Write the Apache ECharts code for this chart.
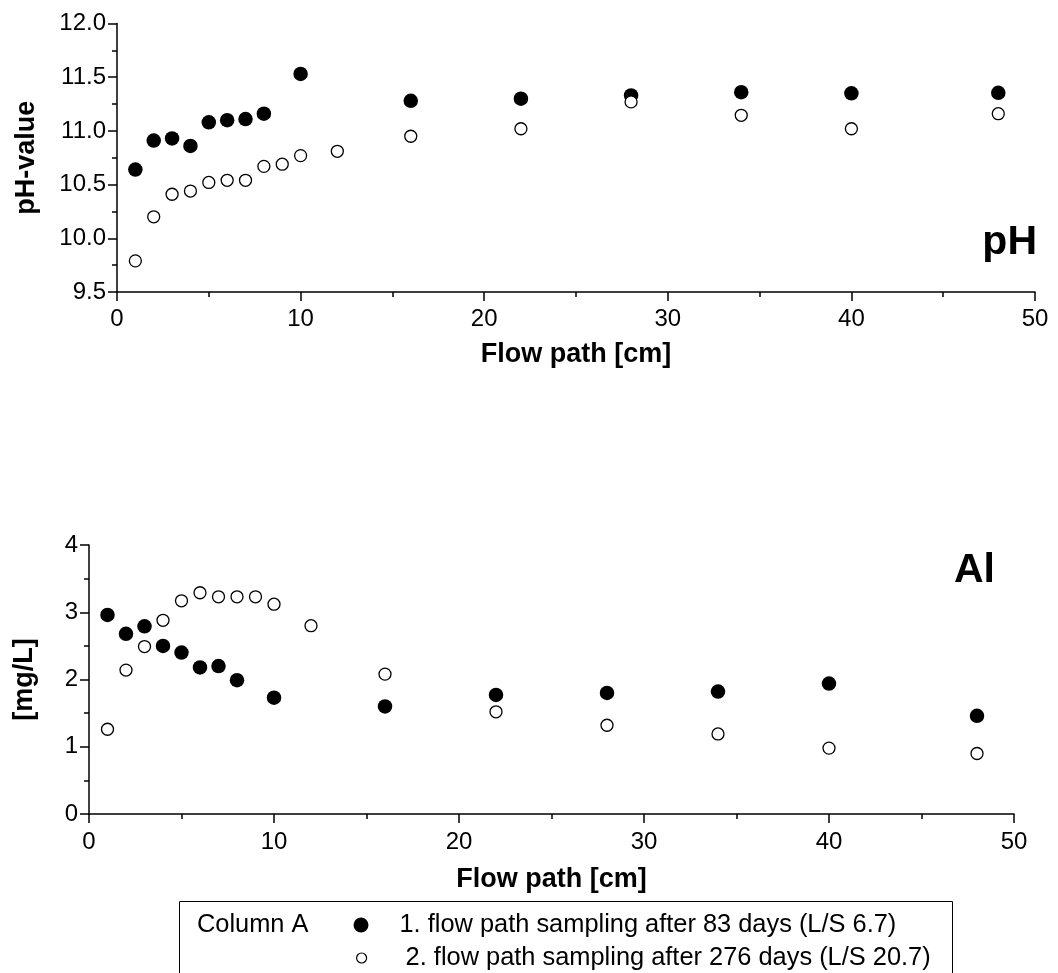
<!DOCTYPE html>
<html>
<head>
<meta charset="utf-8">
<script src="https://cdn.jsdelivr.net/npm/echarts@6/dist/echarts.min.js"></script>
<style>html,body{margin:0;padding:0;background:#fff}#c{width:1058px;height:973px}</style>
</head>
<body>
<div id="c"></div>
<script>
// ---- data ----
var xFilled = [1, 2, 3, 4, 5, 6, 7, 8, 10, 16, 22, 28, 34, 40, 48];
var xOpen = [1, 2, 3, 4, 5, 6, 7, 8, 9, 10, 12, 16, 22, 28, 34, 40, 48];
var pHFirst = [10.64, 10.91, 10.93, 10.86, 11.08, 11.10, 11.11, 11.16, 11.53, 11.28, 11.30, 11.33, 11.36, 11.35, 11.355];
var pHSecond = [9.79, 10.20, 10.41, 10.44, 10.52, 10.54, 10.54, 10.67, 10.69, 10.77, 10.81, 10.95, 11.02, 11.27, 11.145, 11.02, 11.16];
var alFirst = [2.96, 2.68, 2.79, 2.50, 2.40, 2.18, 2.20, 1.99, 1.73, 1.60, 1.77, 1.80, 1.82, 1.94, 1.46];
var alSecond = [1.26, 2.14, 2.49, 2.88, 3.17, 3.29, 3.23, 3.23, 3.23, 3.12, 2.80, 2.08, 1.52, 1.32, 1.19, 0.98, 0.90];
var xTickLabels = ['0', '10', '20', '30', '40', '50'];
var pHTickLabels = ['9.5', '10.0', '10.5', '11.0', '11.5', '12.0'];
var alTickLabels = ['0', '1', '2', '3', '4'];
var seriesNames = ['1. flow path sampling after 83 days (L/S 6.7)', '2. flow path sampling after 276 days (L/S 20.7)'];

var FONT = 'Liberation Sans, Arial, Helvetica, sans-serif';

function pairs(xs, ys) { return xs.map(function (x, i) { return [x, ys[i]]; }); }

function xAxis(gridIndex, labelMargin, nameGap) {
  return {
    type: 'value', gridIndex: gridIndex, min: 0, max: 50, interval: 10,
    name: 'Flow path [cm]', nameLocation: 'middle', nameGap: nameGap,
    nameTextStyle: { fontFamily: FONT, fontSize: 27, fontWeight: 'bold', color: '#000' },
    axisLine: { show: true, onZero: false, lineStyle: { color: '#000', width: 1.5 } },
    axisTick: { show: true, length: 9, lineStyle: { color: '#000', width: 1.5 } },
    minorTick: { show: true, splitNumber: 2, length: 5, lineStyle: { color: '#000', width: 1.5 } },
    splitLine: { show: false },
    axisLabel: {
      fontFamily: FONT, fontSize: 24, color: '#000', margin: labelMargin,
      formatter: function (v) { return xTickLabels[Math.round(v / 10)]; }
    }
  };
}

function yAxis(gridIndex, min, max, interval, labels, name, nameGap) {
  return {
    type: 'value', gridIndex: gridIndex, min: min, max: max, interval: interval,
    name: name, nameLocation: 'middle', nameGap: nameGap,
    nameTextStyle: { fontFamily: FONT, fontSize: 27, fontWeight: 'bold', color: '#000' },
    axisLine: { show: true, onZero: false, lineStyle: { color: '#000', width: 1.5 } },
    axisTick: { show: true, length: 9, lineStyle: { color: '#000', width: 1.5 } },
    minorTick: { show: true, splitNumber: 2, length: 5, lineStyle: { color: '#000', width: 1.5 } },
    splitLine: { show: false },
    axisLabel: {
      fontFamily: FONT, fontSize: 24, color: '#000', margin: 11,
      formatter: function (v) { return labels[Math.round((v - min) / interval)]; }
    }
  };
}

var filledStyle = { color: '#000', borderColor: '#000', borderWidth: 0, opacity: 1 };
var openStyle = { color: '#fff', borderColor: '#000', borderWidth: 1.3, opacity: 1 };

var option = {
  animation: false,
  backgroundColor: '#fff',
  grid: [
    { left: 117, right: 23, top: 23.5, height: 268.5 },
    { left: 89, right: 44, top: 545, height: 269 }
  ],
  xAxis: [xAxis(0, 15, 49), xAxis(1, 16, 52)],
  yAxis: [
    yAxis(0, 9.5, 12.0, 0.5, pHTickLabels, 'pH-value', 77),
    yAxis(1, 0, 4, 1, alTickLabels, '[mg/L]', 51)
  ],
  legend: [
    {
      data: [{ name: seriesNames[0], icon: 'circle', itemStyle: { color: '#000', borderWidth: 0, opacity: 1 } }],
      orient: 'vertical', left: 353.5, top: 912.5, padding: 0,
      itemWidth: 15, itemHeight: 15,
      textStyle: { fontFamily: FONT, fontSize: 25.4, color: '#000', padding: [0, 0, 0, 26] },
      selectedMode: false
    },
    {
      data: [{ name: seriesNames[1], icon: 'circle', itemStyle: { color: '#fff', borderColor: '#000', borderWidth: 1.2, opacity: 1 } }],
      orient: 'vertical', left: 356, top: 945.5, padding: 0,
      itemWidth: 10, itemHeight: 10,
      textStyle: { fontFamily: FONT, fontSize: 25.4, color: '#000', padding: [0, 0, 0, 34] },
      selectedMode: false
    }
  ],
  series: [
    { name: seriesNames[0], type: 'scatter', xAxisIndex: 0, yAxisIndex: 0, symbol: 'circle', symbolSize: 14.5, itemStyle: filledStyle, data: pairs(xFilled, pHFirst), z: 2 },
    { name: seriesNames[1], type: 'scatter', xAxisIndex: 0, yAxisIndex: 0, symbol: 'circle', symbolSize: 12, itemStyle: openStyle, data: pairs(xOpen, pHSecond), z: 3 },
    { name: seriesNames[0], type: 'scatter', xAxisIndex: 1, yAxisIndex: 1, symbol: 'circle', symbolSize: 14.5, itemStyle: filledStyle, data: pairs(xFilled, alFirst), z: 2 },
    { name: seriesNames[1], type: 'scatter', xAxisIndex: 1, yAxisIndex: 1, symbol: 'circle', symbolSize: 12, itemStyle: openStyle, data: pairs(xOpen, alSecond), z: 3 }
  ],
  graphic: [
    { type: 'text', x: 1037, y: 243, style: { text: 'pH', fontFamily: FONT, fontSize: 41, fontWeight: 'bold', fill: '#000', align: 'right', verticalAlign: 'middle' } },
    { type: 'text', x: 995, y: 571, style: { text: 'Al', fontFamily: FONT, fontSize: 41, fontWeight: 'bold', fill: '#000', align: 'right', verticalAlign: 'middle' } },
    { type: 'rect', shape: { x: 179.5, y: 901.5, width: 773, height: 120 }, style: { fill: 'none', stroke: '#000', lineWidth: 1 }, z: -1 },
    { type: 'text', x: 197, y: 925, style: { text: 'Column A', fontFamily: FONT, fontSize: 25.4, fill: '#000', align: 'left', verticalAlign: 'middle' } }
  ]
};

var chart = echarts.init(document.getElementById('c'), null, { renderer: 'canvas' });
chart.setOption(option);
</script>
</body>
</html>
